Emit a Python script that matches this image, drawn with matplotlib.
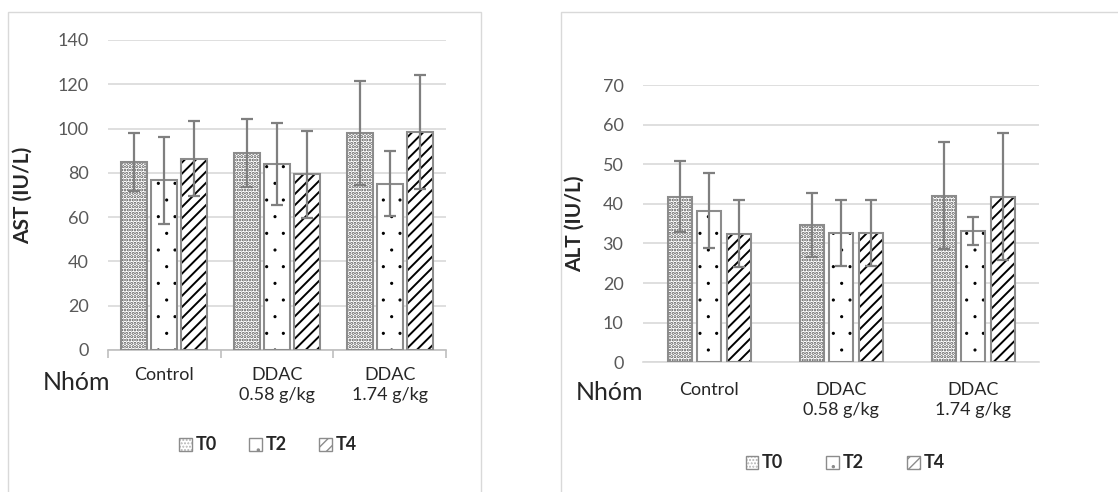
import matplotlib.pyplot as plt
import matplotlib.hatch as mhatch
import numpy as np
from matplotlib.patches import Rectangle, Patch

plt.rcParams['font.family'] = ['Lato', 'DejaVu Sans']
# smaller dots for the '.' hatch (Excel-like sparse dots)
mhatch.SmallFilledCircles.size = 0.06

groups = ['Control', 'DDAC\n0.58 g/kg', 'DDAC\n1.74 g/kg']
series = ['T0', 'T2', 'T4']

ast_mean = [[85.0, 89.0, 97.9],   # T0
            [76.6, 83.9, 75.0],   # T2
            [86.4, 79.3, 98.6]]   # T4
ast_sd = [[13.2, 15.4, 23.4],
          [19.7, 18.4, 14.7],
          [16.8, 19.8, 25.8]]

alt_mean = [[41.8, 34.7, 42.1],
            [38.3, 32.6, 33.2],
            [32.5, 32.6, 41.8]]
alt_sd = [[9.0, 8.0, 13.6],
          [9.5, 8.4, 3.6],
          [8.4, 8.4, 16.0]]

hatches = ['.....', '.', '///']
hatch_lw = [1.5, 0.8, 1.4]
edge = '#8c8c8c'
grid = '#d9d9d9'
tickc = '#595959'

fig = plt.figure(figsize=(11.18, 4.92), dpi=100)
W, H = 1118, 492

def fx(px):
    return px / W

def fy(py):
    return 1 - py / H

# panel borders
fig.add_artist(Rectangle((fx(8), fy(500)), fx(481 - 8), fy(12) - fy(500),
                         transform=fig.transFigure, fill=False,
                         edgecolor=grid, lw=1))
fig.add_artist(Rectangle((fx(561), fy(500)), fx(600), fy(12) - fy(500),
                         transform=fig.transFigure, fill=False,
                         edgecolor=grid, lw=1))


def draw(ax, means, sds, width, step, ymax, ystep, ylabel):
    x = np.arange(len(groups))
    for i in range(len(series)):
        xs = x + (i - 1) * step
        plt.rcParams['hatch.linewidth'] = hatch_lw[i]
        ax.bar(xs, means[i], width, color='white', hatch=hatches[i],
               edgecolor='black', linewidth=0, zorder=2)
        ax.bar(xs, means[i], width, fill=False, edgecolor=edge,
               linewidth=1.5, zorder=3)
        ax.errorbar(xs, means[i], yerr=sds[i], fmt='none', ecolor='#7f7f7f',
                    elinewidth=1.6, capsize=4, capthick=1.6, zorder=4)
    ax.set_xlim(-0.5, 2.5)
    ax.set_ylim(0, ymax)
    ax.set_yticks(np.arange(0, ymax + 1, ystep))
    ax.yaxis.grid(True, color=grid, lw=1.2)
    ax.set_axisbelow(True)
    for s in ['top', 'right', 'left']:
        ax.spines[s].set_visible(False)
    ax.spines['bottom'].set_color('#bfbfbf')
    ax.spines['bottom'].set_linewidth(1.2)
    ax.tick_params(axis='y', length=0, labelsize=13, labelcolor=tickc, pad=14)
    ax.set_xticks(x)
    ax.set_xticklabels(groups, fontsize=13, color='#262626',
                       linespacing=1.35)
    ax.tick_params(axis='x', which='major', length=0)
    ax.set_ylabel(ylabel, fontsize=15, fontweight='bold', color='#262626')


ax1 = fig.add_axes([fx(108), fy(350), fx(446 - 108), fy(40) - fy(350)])
draw(ax1, ast_mean, ast_sd, 26 / 113, 30 / 113, 140, 20, 'AST (IU/L)')
ax1.set_xticks([-0.5, 0.5, 1.5, 2.5], minor=True)
ax1.tick_params(axis='x', which='minor', length=6, color='#bfbfbf', width=1.2)
ax1.tick_params(axis='x', which='major', pad=12)
ax1.yaxis.set_label_coords(fx(33 - 108) / fx(338), 0.5)

ax2 = fig.add_axes([fx(643), fy(362.3), fx(1039 - 643), fy(85) - fy(362.3)])
draw(ax2, alt_mean, alt_sd, 24 / 132, 29.5 / 132, 70, 10, 'ALT (IU/L)')
ax2.spines['bottom'].set_color(grid)
ax2.tick_params(axis='x', which='major', pad=14)
ax2.yaxis.set_label_coords(fx(585 - 643) / fx(396), 0.5)

fig.text(fx(77), fy(383), 'Nhóm', fontsize=18, color='#262626',
         ha='center', va='center')
fig.text(fx(609), fy(393), 'Nhóm', fontsize=18, color='#262626',
         ha='center', va='center')

plt.rcParams['hatch.linewidth'] = 1.0
handles = [Patch(facecolor='white', hatch=hatches[i], edgecolor=edge,
                 label=series[i]) for i in range(3)]
for cx, cy, cs in [(fx(268), fy(445), 1.8), (fx(845), fy(463), 2.4)]:
    fig.legend(handles=handles, loc='center', bbox_to_anchor=(cx, cy),
               ncol=3, frameon=False, prop={'size': 13, 'weight': 'bold'},
               handlelength=0.7, handleheight=0.7, handletextpad=0.2,
               columnspacing=cs, labelcolor='#262626')

fig.savefig('out.png', dpi=100)
